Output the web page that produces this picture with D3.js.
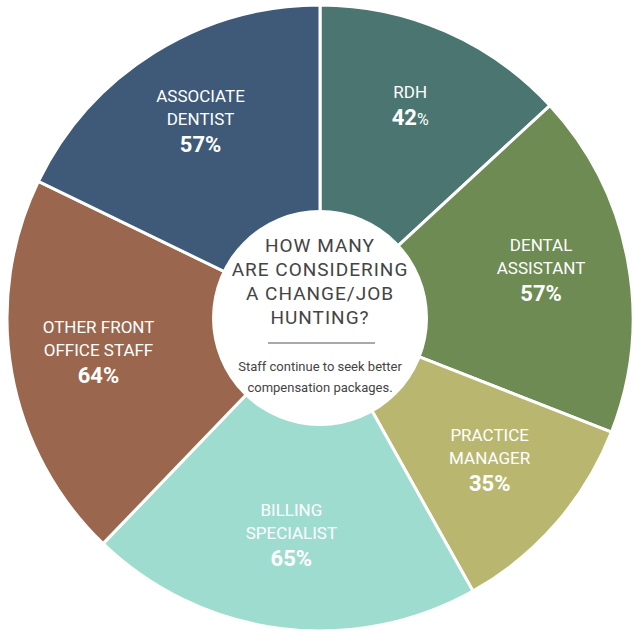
<!DOCTYPE html>
<html><head><meta charset="utf-8">
<script src="https://cdn.jsdelivr.net/npm/d3@7"></script>
<style>body{margin:0;background:#fff}</style></head>
<body><svg id="c" width="640" height="634"></svg>
<script>
const categories=[["RDH"],["DENTAL","ASSISTANT"],["PRACTICE","MANAGER"],["BILLING","SPECIALIST"],["OTHER FRONT","OFFICE STAFF"],["ASSOCIATE","DENTIST"]];
const values=[42,57,35,65,64,57];
const colors=["#4a7570","#6d8b52","#b9b76f","#9fdcd0","#9b664e","#3e5a78"];
const titleLines=["HOW MANY","ARE CONSIDERING","A CHANGE/JOB","HUNTING?"];
const subLines=["Staff continue to seek better","compensation packages."];
const svg=d3.select("#c");
const cx=320,cy=318,R=313,r0=100;
const g=svg.append("g").attr("transform",`translate(${cx},${cy})`);
const pie=d3.pie().sort(null).value(d=>d)(values);
const arc=d3.arc().innerRadius(r0).outerRadius(R);
g.selectAll("path").data(pie).join("path").attr("d",arc)
 .attr("fill",(d,i)=>colors[i]).attr("stroke","#fff").attr("stroke-width",3);
g.append("circle").attr("r",108).attr("fill","#fff");
const font="Roboto, 'Liberation Sans', sans-serif";
pie.forEach((d,i)=>{
  const a=(d.startAngle+d.endAngle)/2, rr=225;
  const x=Math.sin(a)*rr, y=-Math.cos(a)*rr;
  const lines=categories[i], lh=23;
  const total=lines.length*lh+26;
  let y0=y-total/2+11;
  const t=g.append("text").attr("text-anchor","middle").attr("fill","#fff").attr("font-family",font);
  lines.forEach((l,k)=>t.append("tspan").attr("x",x).attr("y",y0+k*lh).attr("font-size",17).text(l));
  t.append("tspan").attr("x",x).attr("y",y0+lines.length*lh+4).attr("font-size",22).attr("font-weight","bold").text(values[i]);
  t.append("tspan").attr("font-size",i===0?16:22).attr("font-weight",i===0?"normal":"bold").text("%");
});
const ct=g.append("text").attr("text-anchor","middle").attr("fill","#444").attr("font-family",font).attr("font-size",19).attr("letter-spacing",1);
titleLines.forEach((l,k)=>ct.append("tspan").attr("x",0).attr("y",-66+k*24).text(l));
g.append("line").attr("x1",-52).attr("x2",55).attr("y1",25).attr("y2",25).attr("stroke","#555").attr("stroke-width",1);
const st=g.append("text").attr("text-anchor","middle").attr("fill","#444").attr("font-family",font).attr("font-size",13);
subLines.forEach((l,k)=>st.append("tspan").attr("x",0).attr("y",53+k*21).text(l));
</script></body></html>
